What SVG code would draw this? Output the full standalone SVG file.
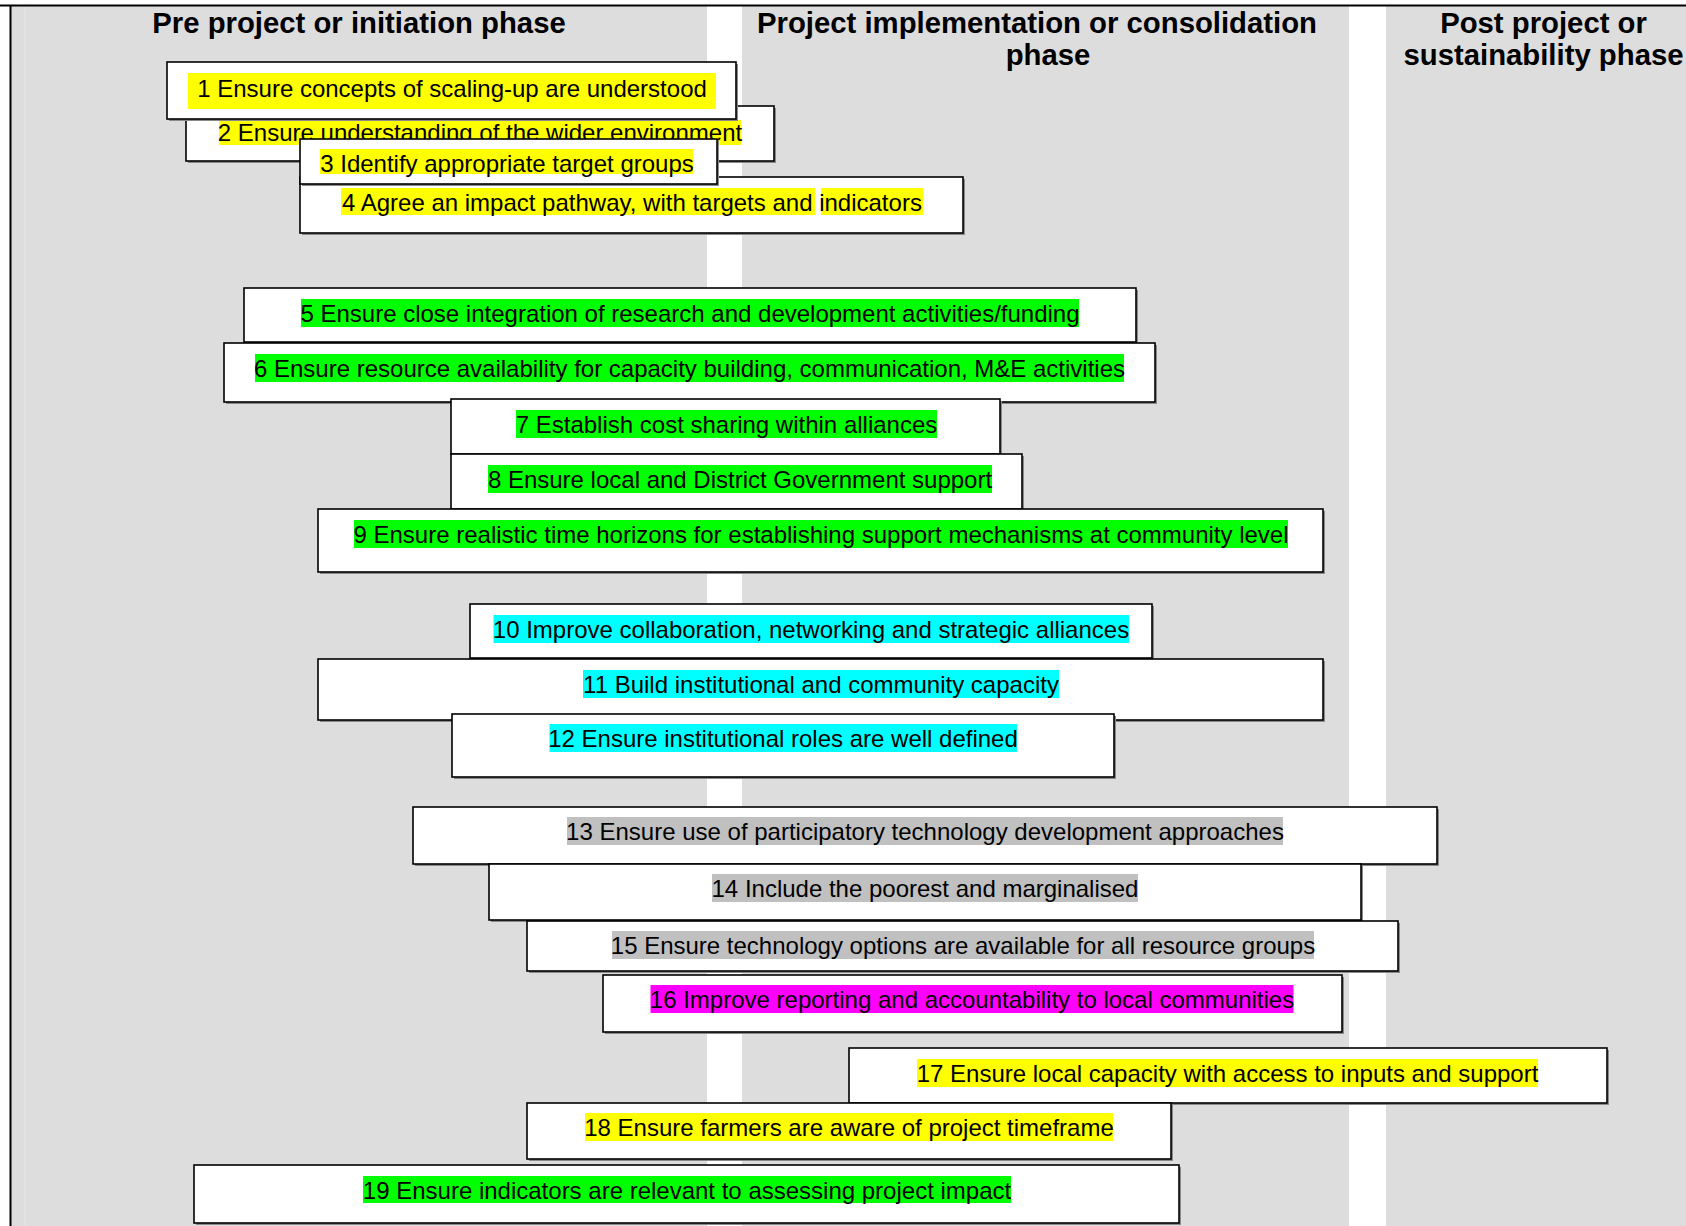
<svg xmlns="http://www.w3.org/2000/svg" width="1686" height="1226" viewBox="0 0 1686 1226">
<style>
  .bg { fill: #dddddd; }
  .hdr { font-family: "Liberation Sans", Arial, sans-serif; font-weight: bold; font-size: 29.3px; fill: #000; text-anchor: middle; }
  .box { fill: #ffffff; stroke: #000000; stroke-width: 1.6; }
  .shadow { fill: #8a8a8a; }
  .lbl { font-family: "Liberation Sans", Arial, sans-serif; font-size: 24px; fill: #000; text-anchor: middle; }
  .y { fill: #ffff00; }
  .g { fill: #00ff00; }
  .c { fill: #00ffff; }
  .s { fill: #c0c0c0; }
  .m { fill: #ff00ff; }
</style>
<rect x="0" y="0" width="1686" height="1226" fill="#ffffff"/>
<g id="background">
  <rect class="bg" x="11" y="6" width="696" height="1220"/>
  <rect class="bg" x="742" y="6" width="607" height="1220"/>
  <rect class="bg" x="1386" y="6" width="300" height="1220"/>
  <line x1="25" y1="7" x2="25" y2="1226" stroke="#e6e6e6" stroke-width="1"/>
  <line x1="0" y1="5.5" x2="1686" y2="5.5" stroke="#000" stroke-width="2"/>
  <line x1="10.5" y1="5" x2="10.5" y2="1226" stroke="#000" stroke-width="2"/>
</g>
<g id="headers">
  <text class="hdr" x="359" y="33">Pre project or initiation phase</text>
  <text class="hdr" x="1037" y="33">Project implementation or consolidation</text>
  <text class="hdr" x="1048" y="65">phase</text>
  <text class="hdr" x="1543.5" y="33">Post project or</text>
  <text class="hdr" x="1543.5" y="65">sustainability phase</text>
</g>
<g id="connectors"/>
<g id="nodes">
  <g id="node4">
    <rect class="shadow" x="302" y="179" width="663" height="56"/>
    <rect class="box" x="300" y="177" width="663" height="56"/>
    <rect class="y" x="341" y="188" width="474" height="27"/>
    <rect class="y" x="821" y="188" width="102" height="27"/>
    <text class="lbl" x="342" y="210.5" style="text-anchor:start">4 Agree an impact pathway, with targets and indicators</text>
  </g>
  <g id="node2">
    <rect class="shadow" x="188" y="108" width="588" height="55"/>
    <rect class="box" x="186" y="106" width="588" height="55"/>
    <rect class="y" x="219" y="120" width="522" height="25"/>
    <text class="lbl" x="480" y="140.5">2 Ensure understanding of the wider environment</text>
  </g>
  <g id="node1">
    <rect class="shadow" x="169" y="64" width="569" height="57"/>
    <rect class="box" x="167" y="62" width="569" height="57"/>
    <rect class="y" x="188" y="73" width="528" height="36"/>
    <text class="lbl" x="452" y="96.5">1 Ensure concepts of scaling-up are understood</text>
  </g>
  <g id="node3">
    <rect class="shadow" x="302" y="141" width="417" height="45"/>
    <rect class="box" x="300" y="139" width="417" height="45"/>
    <rect class="y" x="320" y="149" width="373" height="25"/>
    <text class="lbl" x="507" y="171.5">3 Identify appropriate target groups</text>
  </g>
  <g id="node5">
    <rect class="shadow" x="246" y="290" width="892" height="54"/>
    <rect class="box" x="244" y="288" width="892" height="54"/>
    <rect class="g" x="301" y="299" width="778" height="28"/>
    <text class="lbl" x="690" y="322">5 Ensure close integration of research and development activities/funding</text>
  </g>
  <g id="node6">
    <rect class="shadow" x="226" y="345" width="931" height="59"/>
    <rect class="box" x="224" y="343" width="931" height="59"/>
    <rect class="g" x="255" y="354" width="869" height="28"/>
    <text class="lbl" x="689.5" y="377">6 Ensure resource availability for capacity building, communication, M&amp;E activities</text>
  </g>
  <g id="node7">
    <rect class="shadow" x="453" y="401" width="549" height="55"/>
    <rect class="box" x="451" y="399" width="549" height="55"/>
    <rect class="g" x="516" y="410" width="421" height="28"/>
    <text class="lbl" x="726.5" y="433">7 Establish cost sharing within alliances</text>
  </g>
  <g id="node8">
    <rect class="shadow" x="453" y="456" width="571" height="55"/>
    <rect class="box" x="451" y="454" width="571" height="55"/>
    <rect class="g" x="488" y="465" width="504" height="28"/>
    <text class="lbl" x="740" y="488">8 Ensure local and District Government support</text>
  </g>
  <g id="node9">
    <rect class="shadow" x="320" y="511" width="1005" height="63"/>
    <rect class="box" x="318" y="509" width="1005" height="63"/>
    <rect class="g" x="354" y="520" width="934" height="28"/>
    <text class="lbl" x="821" y="543">9 Ensure realistic time horizons for establishing support mechanisms at community level</text>
  </g>
  <g id="node10">
    <rect class="shadow" x="472" y="606" width="682" height="54"/>
    <rect class="box" x="470" y="604" width="682" height="54"/>
    <rect class="c" x="493.5" y="615" width="635.5" height="28"/>
    <text class="lbl" x="811" y="638">10 Improve collaboration, networking and strategic alliances</text>
  </g>
  <g id="node11">
    <rect class="shadow" x="320" y="661" width="1005" height="61"/>
    <rect class="box" x="318" y="659" width="1005" height="61"/>
    <rect class="c" x="583" y="670" width="476" height="28"/>
    <text class="lbl" x="821" y="693">11 Build institutional and community capacity</text>
  </g>
  <g id="node12">
    <rect class="shadow" x="454" y="716" width="662" height="63"/>
    <rect class="box" x="452" y="714" width="662" height="63"/>
    <rect class="c" x="549.5" y="724" width="467.5" height="28"/>
    <text class="lbl" x="783" y="747">12 Ensure institutional roles are well defined</text>
  </g>
  <g id="node13">
    <rect class="shadow" x="415" y="809" width="1024" height="57"/>
    <rect class="box" x="413" y="807" width="1024" height="57"/>
    <rect class="s" x="567" y="817" width="716" height="28"/>
    <text class="lbl" x="925" y="840">13 Ensure use of participatory technology development approaches</text>
  </g>
  <g id="node14">
    <rect class="shadow" x="491" y="866" width="872" height="56"/>
    <rect class="box" x="489" y="864" width="872" height="56"/>
    <rect class="s" x="712" y="874" width="426" height="28"/>
    <text class="lbl" x="925" y="897">14 Include the poorest and marginalised</text>
  </g>
  <g id="node15">
    <rect class="shadow" x="529" y="923" width="871" height="50"/>
    <rect class="box" x="527" y="921" width="871" height="50"/>
    <rect class="s" x="612" y="931" width="702" height="28"/>
    <text class="lbl" x="963" y="954">15 Ensure technology options are available for all resource groups</text>
  </g>
  <g id="node16">
    <rect class="shadow" x="605" y="977" width="739" height="57"/>
    <rect class="box" x="603" y="975" width="739" height="57"/>
    <rect class="m" x="650.5" y="985" width="643" height="28"/>
    <text class="lbl" x="972" y="1008">16 Improve reporting and accountability to local communities</text>
  </g>
  <g id="node17">
    <rect class="shadow" x="851" y="1050" width="758" height="55"/>
    <rect class="box" x="849" y="1048" width="758" height="55"/>
    <rect class="y" x="917" y="1059" width="621" height="28"/>
    <text class="lbl" x="1227.5" y="1082">17 Ensure local capacity with access to inputs and support</text>
  </g>
  <g id="node18">
    <rect class="shadow" x="529" y="1105" width="644" height="56"/>
    <rect class="box" x="527" y="1103" width="644" height="56"/>
    <rect class="y" x="585" y="1113" width="528" height="28"/>
    <text class="lbl" x="849" y="1136">18 Ensure farmers are aware of project timeframe</text>
  </g>
  <g id="node19">
    <rect class="shadow" x="196" y="1167" width="985" height="58"/>
    <rect class="box" x="194" y="1165" width="985" height="58"/>
    <rect class="g" x="363" y="1176" width="648" height="27"/>
    <text class="lbl" x="687" y="1198.5">19 Ensure indicators are relevant to assessing project impact</text>
  </g>
</g>
</svg>
